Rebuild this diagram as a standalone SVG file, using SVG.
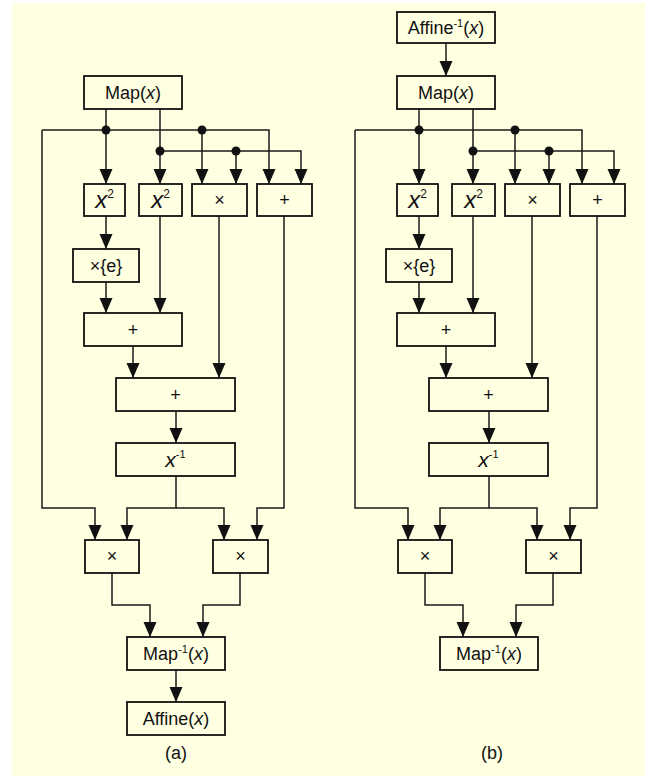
<svg xmlns="http://www.w3.org/2000/svg" width="648" height="778" viewBox="0 0 648 778">
<style>
.bg{fill:#FFFFE1}
.box{fill:#FFFFE1;stroke:#111;stroke-width:1.8}
.t{font-family:"Liberation Sans",Arial,sans-serif;font-size:18px;fill:#111;text-anchor:middle}
.i{font-style:italic}
.c{fill:none;stroke:#1a1a1a;stroke-width:1.5}
.a{marker-end:url(#ah)}
.dot{fill:#111}
</style>
<defs>
<marker id="ah" markerUnits="userSpaceOnUse" markerWidth="15" markerHeight="14" refX="15" refY="7" orient="auto">
<path d="M0,0.5 L15,7 L0,13.5 z" fill="#111"/>
</marker>
</defs>
<rect class="bg" x="12" y="3" width="633" height="773"/>

<g id="panel-a">
<g id="a-connectors">
<path class="c a" d="M106,109 V184"/>
<path class="c a" d="M42,130 H269 V184"/>
<path class="c a" d="M42,130 V508 H95 V540"/>
<path class="c a" d="M202,130 V184"/>
<path class="c a" d="M160,109 V184"/>
<path class="c a" d="M160,151 H301 V184"/>
<path class="c a" d="M236,151 V184"/>
<path class="c a" d="M106,216 V249"/>
<path class="c a" d="M106,282 V313"/>
<path class="c a" d="M160,216 V313"/>
<path class="c a" d="M133,346 V378"/>
<path class="c a" d="M219,216 V378"/>
<path class="c a" d="M176,411 V443"/>
<path class="c a" d="M176,476 V508 H127 V540"/>
<path class="c a" d="M176,508 H224 V540"/>
<path class="c a" d="M284,216 V508 H257 V540"/>
<path class="c a" d="M112,573 V605 H150 V637"/>
<path class="c a" d="M240,573 V605 H203 V637"/>
<path class="c a" d="M176,670 V702"/>
<circle class="dot" cx="106" cy="130" r="4.5"/>
<circle class="dot" cx="202" cy="130" r="4.5"/>
<circle class="dot" cx="160" cy="151" r="4.5"/>
<circle class="dot" cx="236" cy="151" r="4.5"/>
</g>
<g id="a-map"><rect class="box" x="84" y="76" width="98" height="33"/><text class="t" x="133" y="99">Map(<tspan class="i">x</tspan>)</text></g>
<g id="a-sq1"><rect class="box" x="84" y="184" width="41" height="32"/><text class="t" x="104.5" y="208"><tspan class="i" font-size="24">x</tspan><tspan font-size="12" dy="-10">2</tspan></text></g>
<g id="a-sq2"><rect class="box" x="139" y="184" width="43" height="32"/><text class="t" x="160.5" y="208"><tspan class="i" font-size="24">x</tspan><tspan font-size="12" dy="-10">2</tspan></text></g>
<g id="a-mul1"><rect class="box" x="192" y="184" width="55" height="32"/><text class="t" x="219.5" y="206">×</text></g>
<g id="a-add1"><rect class="box" x="257" y="184" width="55" height="32"/><text class="t" x="284.5" y="206">+</text></g>
<g id="a-mule"><rect class="box" x="73" y="249" width="66" height="33"/><text class="t" x="106" y="272">×{e}</text></g>
<g id="a-addA"><rect class="box" x="84" y="313" width="98" height="33"/><text class="t" x="133" y="336">+</text></g>
<g id="a-addB"><rect class="box" x="116" y="378" width="119" height="33"/><text class="t" x="175.5" y="401">+</text></g>
<g id="a-inv"><rect class="box" x="116" y="443" width="119" height="33"/><text class="t" x="175.5" y="467"><tspan class="i" font-size="21">x</tspan><tspan font-size="11" dy="-9">-1</tspan></text></g>
<g id="a-mulL"><rect class="box" x="85" y="540" width="54" height="33"/><text class="t" x="112" y="562">×</text></g>
<g id="a-mulR"><rect class="box" x="213" y="540" width="55" height="33"/><text class="t" x="240.5" y="562">×</text></g>
<g id="a-mapinv"><rect class="box" x="127" y="637" width="98" height="33"/><text class="t" x="176" y="660">Map<tspan font-size="11" dy="-7">-1</tspan><tspan dy="7">(</tspan><tspan class="i">x</tspan>)</text></g>
<g id="a-affine"><rect class="box" x="127" y="702" width="98" height="33"/><text class="t" x="176" y="725">Affine(<tspan class="i">x</tspan>)</text></g>
<text class="t" x="176" y="759">(a)</text>
</g>

<g id="panel-b" transform="translate(313,0)">
<g id="b-connectors">
<path class="c a" d="M133,43 V76"/>
<path class="c a" d="M106,109 V184"/>
<path class="c a" d="M42,130 H269 V184"/>
<path class="c a" d="M42,130 V508 H95 V540"/>
<path class="c a" d="M202,130 V184"/>
<path class="c a" d="M160,109 V184"/>
<path class="c a" d="M160,151 H301 V184"/>
<path class="c a" d="M236,151 V184"/>
<path class="c a" d="M106,216 V249"/>
<path class="c a" d="M106,282 V313"/>
<path class="c a" d="M160,216 V313"/>
<path class="c a" d="M133,346 V378"/>
<path class="c a" d="M219,216 V378"/>
<path class="c a" d="M176,411 V443"/>
<path class="c a" d="M176,476 V508 H127 V540"/>
<path class="c a" d="M176,508 H224 V540"/>
<path class="c a" d="M284,216 V508 H257 V540"/>
<path class="c a" d="M112,573 V605 H150 V637"/>
<path class="c a" d="M240,573 V605 H203 V637"/>
<circle class="dot" cx="106" cy="130" r="4.5"/>
<circle class="dot" cx="202" cy="130" r="4.5"/>
<circle class="dot" cx="160" cy="151" r="4.5"/>
<circle class="dot" cx="236" cy="151" r="4.5"/>
</g>
<g id="b-affineinv"><rect class="box" x="84" y="12" width="98" height="31"/><text class="t" x="133" y="34">Affine<tspan font-size="11" dy="-7">-1</tspan><tspan dy="7">(</tspan><tspan class="i">x</tspan>)</text></g>
<g id="b-map"><rect class="box" x="84" y="76" width="98" height="33"/><text class="t" x="133" y="99">Map(<tspan class="i">x</tspan>)</text></g>
<g id="b-sq1"><rect class="box" x="84" y="184" width="41" height="32"/><text class="t" x="104.5" y="208"><tspan class="i" font-size="24">x</tspan><tspan font-size="12" dy="-10">2</tspan></text></g>
<g id="b-sq2"><rect class="box" x="139" y="184" width="43" height="32"/><text class="t" x="160.5" y="208"><tspan class="i" font-size="24">x</tspan><tspan font-size="12" dy="-10">2</tspan></text></g>
<g id="b-mul1"><rect class="box" x="192" y="184" width="55" height="32"/><text class="t" x="219.5" y="206">×</text></g>
<g id="b-add1"><rect class="box" x="257" y="184" width="55" height="32"/><text class="t" x="284.5" y="206">+</text></g>
<g id="b-mule"><rect class="box" x="73" y="249" width="66" height="33"/><text class="t" x="106" y="272">×{e}</text></g>
<g id="b-addA"><rect class="box" x="84" y="313" width="98" height="33"/><text class="t" x="133" y="336">+</text></g>
<g id="b-addB"><rect class="box" x="116" y="378" width="119" height="33"/><text class="t" x="175.5" y="401">+</text></g>
<g id="b-inv"><rect class="box" x="116" y="443" width="119" height="33"/><text class="t" x="175.5" y="467"><tspan class="i" font-size="21">x</tspan><tspan font-size="11" dy="-9">-1</tspan></text></g>
<g id="b-mulL"><rect class="box" x="85" y="540" width="54" height="33"/><text class="t" x="112" y="562">×</text></g>
<g id="b-mulR"><rect class="box" x="213" y="540" width="55" height="33"/><text class="t" x="240.5" y="562">×</text></g>
<g id="b-mapinv"><rect class="box" x="127" y="637" width="98" height="33"/><text class="t" x="176" y="660">Map<tspan font-size="11" dy="-7">-1</tspan><tspan dy="7">(</tspan><tspan class="i">x</tspan>)</text></g>
<text class="t" x="179" y="759">(b)</text>
</g>
</svg>
